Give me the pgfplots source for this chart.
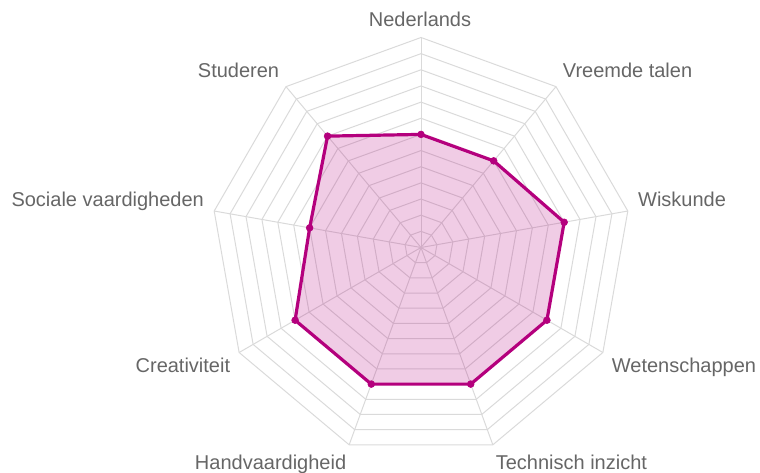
\documentclass[border=0pt]{standalone}
\usepackage{fontspec}
\setmainfont{Liberation Sans}
\usepackage{pgfplots}
\pgfplotsset{compat=1.18}
\usepackage{pgfplotstable}
\definecolor{mag}{RGB}{180,0,125}
\definecolor{lab}{RGB}{102,102,102}
\definecolor{gridc}{RGB}{218,218,218}
\tikzset{lbl/.style={font=\fontsize{20.07pt}{24pt}\selectfont, text=lab, inner sep=0pt}}

% angle (degrees clockwise from top) and score
\pgfplotstableread{
a v
0 7
40 7
80 9
120 9
160 9
200 9
240 9
280 7
320 9
}\scores

\begin{document}
\begin{tikzpicture}
\begin{axis}[
  x=16.1538bp, y=16.1538bp,
  xmin=-26.062, xmax=20.986, ymin=-13.960, ymax=15.321,
  hide axis, clip=false,
]
\pgfplotsinvokeforeach{1,...,13}{
  \draw[gridc, line width=1bp] (axis cs:0,#1) \foreach \k in {1,...,8}{ -- (axis cs:{#1*sin(40*\k)},{#1*cos(40*\k)})} -- cycle;
}
\pgfplotsinvokeforeach{0,40,...,320}{
  \draw[gridc, line width=1bp] (axis cs:0,0) -- (axis cs:{13*sin(#1)},{13*cos(#1)});
}
\addplot[mag, line width=3.2bp, line join=round, fill=mag, fill opacity=0.2, draw opacity=1,
  mark=*, mark size=3.4bp, mark options={solid, line width=0.6bp, fill=mag, fill opacity=1}]
  table[x expr={\thisrow{v}*sin(\thisrow{a})}, y expr={\thisrow{v}*cos(\thisrow{a})}] {\scores} -- cycle;

\node[lbl, anchor=base] at (axis cs:-0.062,13.669) {Nederlands};
\node[lbl, anchor=base west] at (axis cs:8.772,10.536) {Vreemde talen};
\node[lbl, anchor=base east] at (axis cs:-8.772,10.536) {Studeren};
\node[lbl, anchor=base west] at (axis cs:13.43,2.526) {Wiskunde};
\node[lbl, anchor=base east] at (axis cs:-13.43,2.526) {Sociale vaardigheden};
\node[lbl, anchor=base west] at (axis cs:11.805,-7.751) {Wetenschappen};
\node[lbl, anchor=base east] at (axis cs:-11.805,-7.751) {Creativiteit};
\node[lbl, anchor=base west] at (axis cs:4.62,-13.774) {Technisch inzicht};
\node[lbl, anchor=base east] at (axis cs:-4.62,-13.774) {Handvaardigheid};

\coordinate (bl) at (axis cs:-26.062,-13.960);
\coordinate (tr) at (axis cs:20.986,15.321);
\end{axis}
\pgfresetboundingbox
\useasboundingbox (bl) rectangle (tr);
\end{tikzpicture}
\end{document}
